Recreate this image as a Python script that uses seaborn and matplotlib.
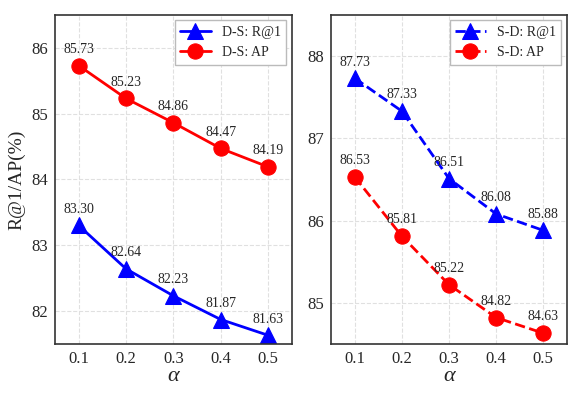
import seaborn as sns
import matplotlib.pyplot as plt
import pandas as pd

alpha = [0.1, 0.2, 0.3, 0.4, 0.5]
ds_r1 = [83.30, 82.64, 82.23, 81.87, 81.63]
ds_ap = [85.73, 85.23, 84.86, 84.47, 84.19]
sd_r1 = [87.73, 87.33, 86.51, 86.08, 85.88]
sd_ap = [86.53, 85.81, 85.22, 84.82, 84.63]

sns.set_style("whitegrid", {"grid.linestyle": "--", "grid.color": "#e0e0e0",
                            "axes.edgecolor": "#333333"})
plt.rcParams['font.family'] = ['Liberation Serif', 'DejaVu Serif']

fig = plt.figure(figsize=(5.82, 3.93), dpi=100)
ax1 = fig.add_axes([0.0945, 0.125, 0.407, 0.837])
ax2 = fig.add_axes([0.569, 0.125, 0.405, 0.837])


def draw(ax, r1, ap, prefix, ls, ylim, yticks):
    df = pd.DataFrame({"alpha": alpha, "r1": r1, "ap": ap})
    sns.lineplot(data=df, x="alpha", y="r1", ax=ax, color="blue", marker="^",
                 markersize=11, linewidth=2, linestyle=ls, markeredgecolor="blue",
                 label=f"{prefix}: R@1")
    sns.lineplot(data=df, x="alpha", y="ap", ax=ax, color="red", marker="o",
                 markersize=11, linewidth=2, linestyle=ls, markeredgecolor="red",
                 label=f"{prefix}: AP")
    for x, y in zip(alpha, r1):
        ax.annotate(f"{y:.2f}", (x, y), xytext=(0, 7), textcoords="offset points",
                    ha="center", va="bottom", fontsize=10)
    for x, y in zip(alpha, ap):
        ax.annotate(f"{y:.2f}", (x, y), xytext=(0, 7), textcoords="offset points",
                    ha="center", va="bottom", fontsize=10)
    ax.set_xlim(0.05, 0.55)
    ax.set_ylim(*ylim)
    ax.set_xticks(alpha)
    ax.set_xticklabels([str(a) for a in alpha])
    ax.set_yticks(yticks)
    ax.tick_params(labelsize=12, length=3, pad=2, color="#333333")
    ax.set_xlabel("α", fontsize=16, fontstyle="italic", labelpad=0)
    ax.set_ylabel("")
    for s in ax.spines.values():
        s.set_linewidth(1.2)
    ax.legend(loc="upper right", fontsize=10, fancybox=False, framealpha=1,
              edgecolor="#bbbbbb", borderaxespad=0.4, handlelength=2.2)


draw(ax1, ds_r1, ds_ap, "D-S", "-", (81.5, 86.5), [82, 83, 84, 85, 86])
draw(ax2, sd_r1, sd_ap, "S-D", "--", (84.5, 88.5), [85, 86, 87, 88])
ax1.set_ylabel("R@1/AP(%)", fontsize=14)

fig.savefig("out.png", dpi=100)
